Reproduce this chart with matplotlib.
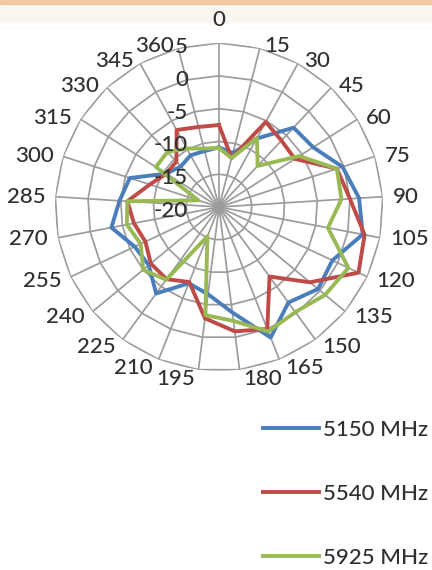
import numpy as np
import matplotlib.pyplot as plt
from matplotlib.patches import Rectangle

plt.rcParams['font.family'] = ['Lato', 'DejaVu Sans']

# angulos (categorias del radar, 0..360 cada 15)
categorias = ['0', '15', '30', '45', '60', '75', '90', '105', '120', '135', '150', '165',
              '180', '195', '210', '225', '240', '255', '270', '285', '300', '315', '330',
              '345', '360']

# ganancia, un valor por angulo
g_5150 = [-10.9, -11.5, -8.1, -3.4, -3.0, -0.2, 1.4, 2.3, -0.9, -0.4, -2.0, 1.4, -3.8,
          -6.6, -7.5, -3.7, -6.1, -5.8, -3.3, -4.8, -5.7, -10.5, -11.5, -11.0, -11.2]
g_5540 = [-7.5, -12.3, -5.2, -6.1, -6.3, -1.1, 0.0, 2.6, 3.5, -2.0, -6.9, 0.0, -0.9,
          -2.9, -7.7, -6.4, -6.5, -7.6, -6.8, -6.0, -8.9, -10.5, -10.5, -6.6, -7.4]
g_5925 = [-11.0, -12.3, -8.0, -11.4, -5.5, -1.1, -1.3, -3.1, 1.8, 1.0, -0.2, 0.4, -2.5,
          -3.4, -15.2, -6.3, -5.0, -6.8, -5.7, -6.0, -16.7, -8.6, -8.5, -9.8, -10.8]

series = [('5150 MHz', g_5150, '#4a7ebb'),
          ('5540 MHz', g_5540, '#be4b48'),
          ('5925 MHz', g_5925, '#98b954')]

escala = [-20, -15, -10, -5, 0, 5]
gris = '#9c9c9c'
texto = '#303030'

fig = plt.figure(figsize=(4.32, 5.70), dpi=100)
# franja de arriba (recorte de la captura)
fig.patches.append(Rectangle((0, 1 - 22 / 570), 1, 22 / 570, transform=fig.transFigure,
                             color='#fcf6f0', zorder=-5))
fig.patches.append(Rectangle((0, 1 - 4 / 570), 1, 4 / 570, transform=fig.transFigure,
                             color='#f2c9a2', zorder=-5))

ax = fig.add_axes([0.1273, 0.3491, 0.7593, 0.5754], projection='polar')
ax.set_theta_zero_location('N')
ax.set_theta_direction(-1)
ax.set_ylim(escala[0], escala[-1])
ax.grid(False)
ax.set_xticks([])
ax.set_yticks([])
ax.spines['polar'].set_visible(False)
ax.patch.set_alpha(0)

n = len(categorias)
theta = np.linspace(0, 2 * np.pi, n, endpoint=False)
theta_c = np.append(theta, theta[0])

# grilla poligonal estilo Excel
for nivel in escala[1:]:
    ax.plot(theta_c, [nivel] * (n + 1), color=gris, lw=1.25, zorder=1)
for t in theta:
    ax.plot([t, t], [escala[0], escala[-1]], color=gris, lw=1.25, zorder=1)

for nombre, vals, color in series:
    ax.plot(theta_c, vals + vals[:1], color=color, lw=2.8, label=nombre, zorder=3)

# etiquetas de angulo
for t, lab in zip(theta, categorias):
    s, c = np.sin(t), np.cos(t)
    if abs(s) < 1e-6:
        ha, dx, dy = 'center', 0, 23
    else:
        ha = 'left' if s > 0 else 'right'
        dx = np.sign(s) * (3 + 7 * abs(s))
        dy = 2.5 * c if c > 0 else 9 * c
    ax.annotate(lab, xy=(t, escala[-1]), xytext=(dx, dy), textcoords='offset pixels',
                ha=ha, va='center', fontsize=16, fontweight='medium', color=texto,
                annotation_clip=False)

# etiquetas de valor sobre el eje vertical
for nivel in escala:
    ax.annotate(str(nivel), xy=(0, nivel), xytext=(-31, -4), textcoords='offset pixels',
                ha='right', va='center', fontsize=16, fontweight='medium', color=texto,
                zorder=5, annotation_clip=False)

leg = fig.legend(loc='upper left', bbox_to_anchor=(263 / 432, 1 - 420 / 570),
                 frameon=False, prop={'size': 16, 'weight': 'medium'}, handlelength=2.5,
                 handletextpad=0.22, labelspacing=1.97, borderpad=0, borderaxespad=0)
for txt in leg.get_texts():
    txt.set_color(texto)

fig.savefig('out.png', dpi=100)
